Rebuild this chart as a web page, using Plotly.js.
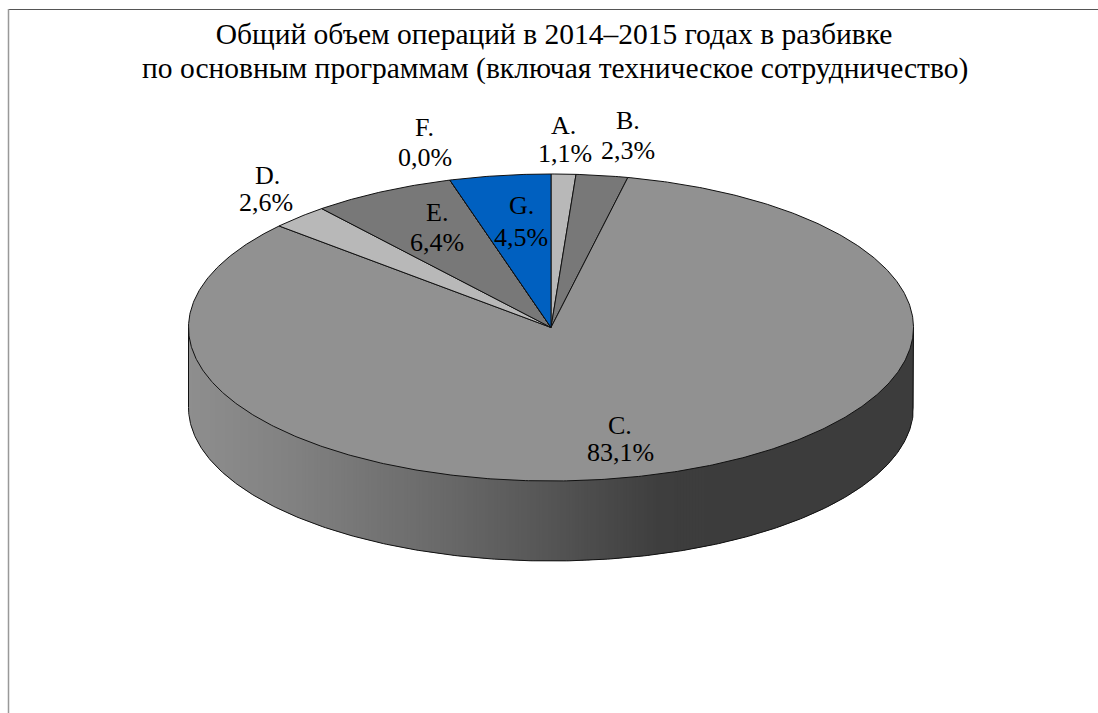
<!DOCTYPE html>
<html>
<head>
<meta charset="utf-8">
<script src="https://cdn.plot.ly/plotly-3.0.1.min.js"></script>
<style>html,body{margin:0;padding:0;background:#fff;overflow:hidden}</style>
</head>
<body>
<div id="chart" style="width:1098px;height:713px"></div>
<script>
// Data
const categories = ['A.', 'B.', 'C.', 'D.', 'E.', 'F.', 'G.'];
const shares = [1.1, 2.3, 83.1, 2.6, 6.4, 0.0, 4.5];
const titleLines = ['Общий объем операций в 2014–2015 годах в разбивке',
                    'по основным программам (включая техническое сотрудничество)'];

// Styling and layout
const sliceColors = ['#b8b8b8', '#787878', '#919191', '#b8b8b8', '#787878', '#919191', '#0060c0'];
// centre of [name line, share line] of each label: x, yName, xShare, yShare
const labelAnchors = [[563,125,565,153],[628,120,628,150],[620,425,620,452],[267,175,266,202],
                      [437,212,437,242],[424,127,425,157],[521,205,521,237]];
const cx = 551, cy = 327.5, rx = 362.5, ry = 153.5, depth = 80;
const wallStops = [[188,0x8e],[300,0x80],[450,0x68],[550,0x55],[660,0x3e],[720,0x3c],[914,0x3c]];
const outline = '#111';
const serif = '"Liberation Serif", serif';

function wallGrey(x) {
  for (let i = 1; i < wallStops.length; i++) {
    if (x <= wallStops[i][0]) {
      const a = wallStops[i-1], b = wallStops[i];
      const v = Math.round(a[1] + (b[1]-a[1]) * (x-a[0]) / (b[0]-a[0]));
      return `rgb(${v},${v},${v})`;
    }
  }
  return 'rgb(60,60,60)';
}
const px = t => cx + rx * Math.sin(t);
const py = t => cy - ry * Math.cos(t);
const lowerY = x => cy + ry * Math.sqrt(Math.max(0, 1 - Math.pow((x-cx)/rx, 2)));
const traces = [];

// Side wall: thin vertical strips under the lower half of the ellipse, each overlapped by the next
const stripW = 3;
for (let x = cx - rx; x < cx + rx; x += stripW) {
  const x2 = Math.min(x + stripW + 2, cx + rx);
  const xs = [], ys = [], bottom = [];
  for (let k = 0; k <= 4; k++) {
    const xx = x + (x2-x)*k/4;
    xs.push(xx); ys.push(lowerY(xx) - 3); bottom.push(lowerY(xx) + depth);
  }
  const allX = xs.concat(xs.slice().reverse(), [xs[0]]);
  const allY = ys.concat(bottom.reverse(), [ys[0]]);
  traces.push({type:'scatter', mode:'lines', x:allX, y:allY, fill:'toself',
               fillcolor:wallGrey(x + stripW/2), line:{width:0}, hoverinfo:'skip', showlegend:false});
}
// Wall outline
const ox = [], oy = [];
const outlineSteps = 360;
for (let i = 0; i <= outlineSteps; i++) {
  const t = Math.PI/2 + i*Math.PI/outlineSteps; ox.push(px(t)); oy.push(py(t)+depth);
}
traces.push({type:'scatter', mode:'lines', x:[px(Math.PI/2)].concat(ox, [px(3*Math.PI/2)]),
             y:[cy].concat(oy, [cy]), line:{color:outline, width:1}, hoverinfo:'skip', showlegend:false});

// Top face slices computed from the shares
const total = shares.reduce((a,b)=>a+b, 0);
let cum = 0;
shares.forEach((v, i) => {
  const t0 = cum / total * 2 * Math.PI;
  cum += v;
  const t1 = cum / total * 2 * Math.PI;
  const xs = [cx], ys = [cy];
  const n = Math.max(1, Math.ceil((t1-t0) / (Math.PI/360)));
  for (let k = 0; k <= n; k++) { const t = t0 + (t1-t0)*k/n; xs.push(px(t)); ys.push(py(t)); }
  xs.push(cx); ys.push(cy);
  traces.push({type:'scatter', mode:'lines', x:xs, y:ys, fill:'toself', fillcolor:sliceColors[i],
               line:{color:outline, width:1}, name:categories[i], hoverinfo:'skip', showlegend:false});
});

const labelFont = {family:serif, size:26, color:'#000'};
const annotations = [];
categories.forEach((c, i) => {
  const p = labelAnchors[i];
  annotations.push({x:p[0], y:p[1], xref:'x', yref:'y', text:c, showarrow:false,
                    xanchor:'center', yanchor:'middle', font:labelFont});
  annotations.push({x:p[2], y:p[3], xref:'x', yref:'y', text:shares[i].toFixed(1).replace('.', ',') + '%',
                    showarrow:false, xanchor:'center', yanchor:'middle', font:labelFont});
});
annotations.push({x:554.5, y:68, xref:'x', yref:'y', text:titleLines[1], showarrow:false,
                  xanchor:'center', yanchor:'middle', font:{family:serif, size:29.5, color:'#000'}});

const frame = [
  {type:'line', xref:'x', yref:'y', x0:8, x1:1098, y0:9.5, y1:9.5, line:{color:'#555', width:1}},
  {type:'line', xref:'x', yref:'y', x0:8.5, x1:8.5, y0:9, y1:713, line:{color:'#999', width:1.5}}
];

Plotly.newPlot('chart', traces, {
  width:1098, height:713, margin:{l:0,r:0,t:0,b:0},
  paper_bgcolor:'#fff', plot_bgcolor:'#fff', showlegend:false,
  xaxis:{range:[0,1098], visible:false, fixedrange:true},
  yaxis:{range:[713,0], visible:false, fixedrange:true},
  title:{text:titleLines[0], x:554/1098, xanchor:'center', y:1-34/713, yanchor:'middle',
         font:{family:serif, size:29.5, color:'#000'}},
  annotations:annotations, shapes:frame
}, {displayModeBar:false, staticPlot:true});
</script>
</body>
</html>
